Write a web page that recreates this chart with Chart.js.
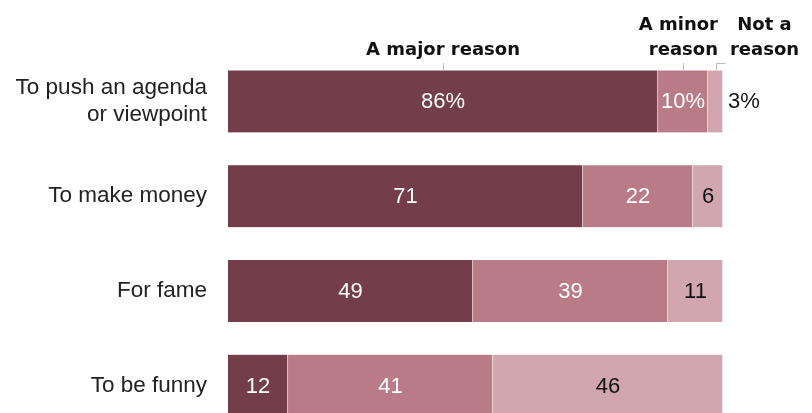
<!DOCTYPE html>
<html><head><meta charset="utf-8">
<script src="https://cdn.jsdelivr.net/npm/chart.js@4/dist/chart.umd.min.js"></script>
<style>html,body{margin:0;padding:0;overflow:hidden;background:#fff}#wrap{width:812px;height:433px}</style>
</head><body><div id="wrap"><canvas id="c" width="812" height="433"></canvas></div>
<script>
const categories = [["To push an agenda","or viewpoint"],"To make money","For fame","To be funny"];
const major = [86,71,49,12];
const minor = [10,22,39,41];
const notReason = [3,6,11,46];
const seriesNames = ["A major reason","A minor reason","Not a reason"];
const headerLines = [["A major reason"],["A minor","reason"],["Not a","reason"]];
const colors = ["#733e4a","#b97b86","#d1a6ae"];
const labelColors = ["#ffffff","#ffffff","#111111"];
const FONT = "'Liberation Sans', Arial, sans-serif";
const HFONT = "'DejaVu Sans', sans-serif";

const labelPlugin = {
  id:'labels',
  afterDatasetsDraw(chart){
    const ctx = chart.ctx;
    ctx.save();
    ctx.font = "22px " + FONT;
    ctx.textBaseline = 'middle';
    chart.data.datasets.forEach((ds,di)=>{
      const meta = chart.getDatasetMeta(di);
      meta.data.forEach((bar,i)=>{
        const v = ds.data[i];
        const txt = i===0 ? v+'%' : String(v);
        const left = Math.min(bar.x, bar.base), right = Math.max(bar.x, bar.base);
        if (right-left < 25){
          ctx.fillStyle = '#111';
          ctx.textAlign = 'left';
          ctx.fillText(txt, right+5, bar.y+1);
        } else {
          ctx.fillStyle = labelColors[di];
          ctx.textAlign = 'center';
          ctx.fillText(txt, (left+right)/2, bar.y+1);
        }
      });
    });
    // header labels
    ctx.font = "bold 18px " + HFONT;
    ctx.textBaseline = 'alphabetic';
    ctx.strokeStyle = '#bbbbbb';
    ctx.lineWidth = 1;
    const segs = chart.data.datasets.map((ds,di)=>{
      const b = chart.getDatasetMeta(di).data[0];
      return {l:Math.min(b.x,b.base), r:Math.max(b.x,b.base), top:b.y-b.height/2};
    });
    ctx.fillStyle = '#111';
    // major
    let s = segs[0], cx = (s.l+s.r)/2;
    ctx.textAlign = 'center';
    ctx.fillText(headerLines[0][0], cx, 55);
    ctx.beginPath(); ctx.moveTo(Math.round(cx)+0.5, 63); ctx.lineTo(Math.round(cx)+0.5, s.top); ctx.stroke();
    // minor
    s = segs[1]; cx = (s.l+s.r)/2;
    ctx.textAlign = 'right';
    ctx.fillText(headerLines[1][0], cx+35, 30);
    ctx.fillText(headerLines[1][1], cx+35, 55);
    ctx.beginPath(); ctx.moveTo(Math.round(cx)+0.5, 63); ctx.lineTo(Math.round(cx)+0.5, s.top); ctx.stroke();
    // not a reason
    s = segs[2]; cx = (s.l+s.r)/2;
    ctx.textAlign = 'center';
    ctx.fillText(headerLines[2][0], cx+49, 30);
    ctx.fillText(headerLines[2][1], cx+49, 55);
    ctx.beginPath(); ctx.moveTo(Math.round(cx)+0.5, s.top); ctx.lineTo(Math.round(cx)+0.5, 63.5); ctx.lineTo(cx+10, 63.5); ctx.stroke();
    ctx.restore();
  }
};

new Chart(document.getElementById('c'), {
  type:'bar',
  data:{
    labels: categories,
    datasets:[major,minor,notReason].map((d,i)=>({
      label: seriesNames[i], data:d, backgroundColor:colors[i],
      borderColor:'rgba(255,255,255,0.35)', borderWidth:{right:1,left:0,top:0,bottom:0}, borderSkipped:false,
      barThickness:62
    }))
  },
  options:{
    indexAxis:'y', responsive:false, animation:false, devicePixelRatio:1,
    layout:{padding:{top:54,right:84,left:0,bottom:0}},
    plugins:{legend:{display:false}, tooltip:{enabled:false}},
    scales:{
      x:{stacked:true, min:0, max:100, display:false},
      y:{stacked:true, grid:{display:false}, border:{display:false},
         ticks:{color:'#222', font:{family:FONT, size:22.5, lineHeight:1.18}, padding:13},
         afterFit(scale){ scale.width = 228; scale.paddingTop = 0; scale.paddingBottom = 0; }
      }
    }
  },
  plugins:[labelPlugin]
});
</script></body></html>
